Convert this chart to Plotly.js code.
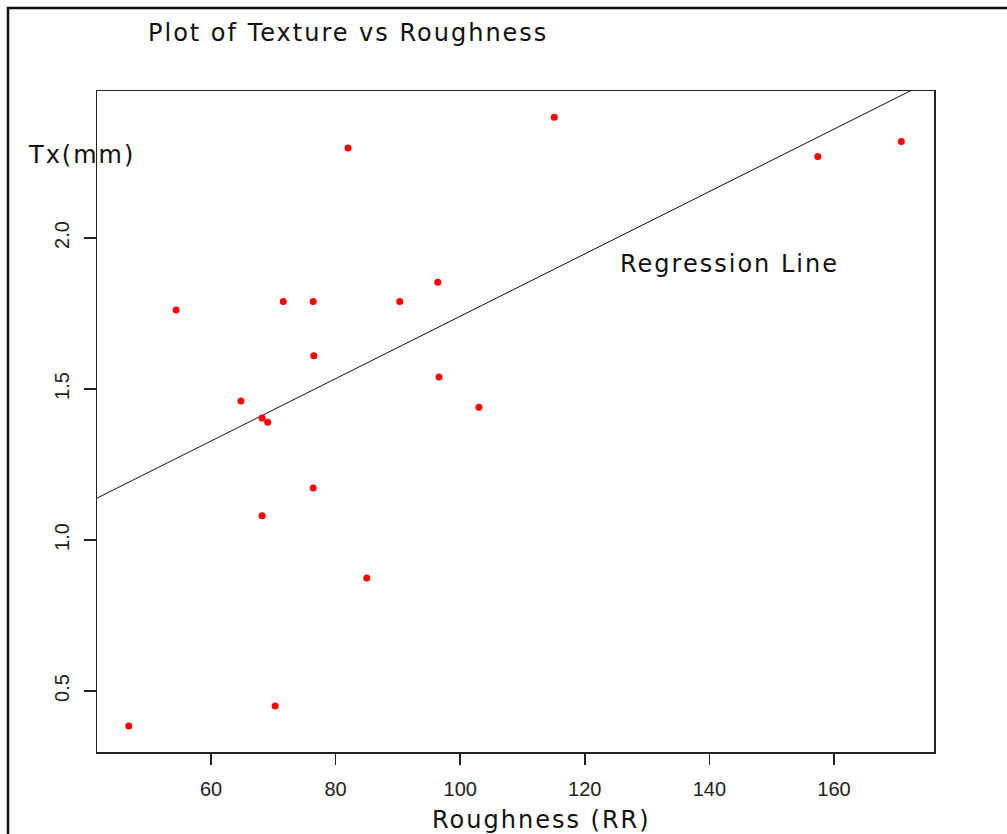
<!DOCTYPE html>
<html>
<head>
<meta charset="utf-8">
<script src="https://cdn.plot.ly/plotly-3.0.1.min.js"></script>
<style>
html,body{margin:0;padding:0;background:#fff;}
#chart{width:1007px;height:834px;}
#chart .annotation-text{letter-spacing:2px;}
</style>
</head>
<body>
<div id="chart"></div>
<script>
// Roughness (RR) values
const roughness = [46.8, 54.4, 64.8, 68.2, 69.1, 68.2, 70.3, 71.6, 76.4, 76.5, 76.4, 82.0, 85.0, 90.3, 96.4, 96.6, 103.0, 115.1, 157.4, 170.8];
// Texture Tx (mm) values
const texture = [0.384, 1.762, 1.46, 1.404, 1.39, 1.08, 0.45, 1.79, 1.79, 1.61, 1.172, 2.298, 0.874, 1.79, 1.854, 1.54, 1.44, 2.40, 2.27, 2.32];
// Regression line parameters
const regIntercept = 0.708;
const regSlope = 0.01033;
const xTicks = [60, 80, 100, 120, 140, 160];
const yTicks = [0.5, 1.0, 1.5, 2.0];

const xRange = [41.7, 176.05];
const yRange = [0.298, 2.487];
const regX = [xRange[0], xRange[1]];
const regY = regX.map(v => regIntercept + regSlope * v);

const traces = [
  {
    x: regX, y: regY, mode: 'lines', type: 'scatter',
    line: {color: '#111', width: 1}, hoverinfo: 'skip', showlegend: false
  },
  {
    x: roughness, y: texture, mode: 'markers', type: 'scatter',
    marker: {color: '#ff0000', size: 7, symbol: 'circle'}, showlegend: false
  }
];

const axFont = {family: 'Liberation Sans, Arial, sans-serif', size: 20, color: '#222'};
const labFont = {family: 'DejaVu Sans, Verdana, sans-serif', size: 24, color: '#111'};

const layout = {
  width: 1007, height: 834,
  margin: {l: 97, r: 73, t: 91, b: 82, pad: 0},
  paper_bgcolor: '#fff', plot_bgcolor: '#fff',
  showlegend: false,
  xaxis: {
    range: xRange, tickvals: xTicks, ticktext: xTicks.map(String),
    showgrid: false, zeroline: false, showline: true, mirror: true,
    linecolor: '#222', linewidth: 1.5, ticks: 'outside', ticklen: 11, tickwidth: 1.5, tickcolor: '#222',
    ticklabelstandoff: 7,
    tickfont: axFont
  },
  yaxis: {
    range: yRange, tickvals: yTicks, ticktext: yTicks.map(v => v.toFixed(1)),
    showgrid: false, zeroline: false, showline: true, mirror: true,
    linecolor: '#222', linewidth: 1.5, ticks: 'outside', ticklen: 12, tickwidth: 1.5, tickcolor: '#222',
    ticklabelstandoff: 7,
    tickangle: -90, tickfont: axFont
  },
  annotations: [
    {text: 'Plot of Texture vs Roughness', xref: 'paper', yref: 'paper',
     x: (348 - 97) / 837, y: (752 - 33) / 661, xanchor: 'center', yanchor: 'middle',
     showarrow: false, font: labFont},
    {text: 'Tx(mm)', xref: 'paper', yref: 'paper',
     x: (81 - 97) / 837, y: (752 - 155) / 661, xanchor: 'center', yanchor: 'middle',
     showarrow: false, font: labFont},
    {text: 'Regression Line', xref: 'paper', yref: 'paper',
     x: (729 - 97) / 837, y: (752 - 264) / 661, xanchor: 'center', yanchor: 'middle',
     showarrow: false, font: labFont},
    {text: 'Roughness (RR)', xref: 'paper', yref: 'paper',
     x: (541 - 97) / 837, y: (752 - 820) / 661, xanchor: 'center', yanchor: 'middle',
     showarrow: false, font: labFont}
  ],
  shapes: [
    {type: 'rect', xref: 'paper', yref: 'paper',
     x0: (8 - 97) / 837, x1: (1012 - 97) / 837,
     y0: (752 - 840) / 661, y1: (752 - 8) / 661,
     line: {color: '#111', width: 2.5}, fillcolor: 'rgba(0,0,0,0)'}
  ]
};

Plotly.newPlot('chart', traces, layout, {displayModeBar: false, staticPlot: true});
</script>
</body>
</html>
